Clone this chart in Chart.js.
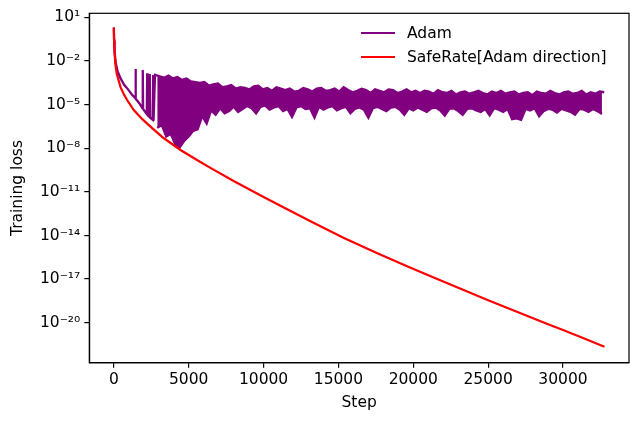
<!DOCTYPE html>
<html>
<head>
<meta charset="utf-8">
<script src="https://cdn.jsdelivr.net/npm/chart.js@4.4.1/dist/chart.umd.min.js"></script>
<style>
  html, body { margin: 0; padding: 0; background: #fff; }
  #wrap { width: 640px; height: 423px; }
</style>
</head>
<body>
<div id="wrap"><canvas id="chart" width="640" height="423"></canvas></div>
<script>
// values, loss kept as log10(loss)
var safeSteps = [0, 15, 40, 80, 113, 200, 447, 700, 900, 1333, 1900, 2560, 3300, 4450, 5780,
  6450, 8000, 10000, 10900, 13100, 15330, 17560, 19780, 21560, 23000, 25000, 27000,
  29000, 30000, 31500, 32767];
var safeLog = [0.3, -0.5, -1.3, -1.9, -2.3, -2.9, -3.8, -4.35, -4.7, -5.37, -6.0, -6.62, -7.28, -8.12, -8.95,
  -9.35, -10.25, -11.35, -11.84, -13.0, -14.15, -15.2, -16.2, -16.97, -17.6, -18.45, -19.28,
  -20.1, -20.5, -21.12, -21.65];

// Adam before it gets noisy (smooth part + the first lone spikes)
var adamEarlySteps = [0, 20, 50, 113, 250, 450, 700, 950, 1200, 1420, 1447, 1475, 1700, 1910, 1933,
  1956, 2120, 2200, 2227, 2254, 2375, 2400, 2425, 2600, 2627, 2654];
var adamEarlyLog = [0.3, -0.6, -1.3, -2.05, -2.7, -3.2, -3.65, -3.95, -4.3, -4.55, -2.55, -4.6, -4.9, -5.25, -2.62,
  -5.3, -5.55, -5.65, -2.85, -5.7, -5.85, -2.9, -5.9, -6.05, -2.96, -6.1];

// noisy band: top edge and bottom edge, points every 300 steps (bottom offset by 150)
var bandStart = 2750;
var bandSpacing = 150;
var adamBandHigh = [
  -2.95, -3.05, -3.15, -3.0, -3.2, -3.1, -3.3, -3.2, -3.4, -3.45,
  -3.5, -3.45, -3.7, -3.6, -3.55, -3.8, -3.75, -3.65, -3.9, -3.8,
  -3.85, -3.95, -3.75, -3.7, -3.95, -3.85, -4.05, -3.8, -3.9, -4.0,
  -3.9, -4.1, -4.05, -3.85, -3.95, -4.1, -3.9, -3.85, -4.05, -4.0,
  -3.9, -4.1, -3.8, -4.0, -4.15, -4.05, -3.9, -4.0, -4.2, -3.95,
  -4.05, -4.15, -3.95, -4.0, -4.2, -4.1, -3.95, -4.15, -4.05, -4.2,
  -4.05, -4.1, -4.25, -4.0, -4.15, -4.2, -4.05, -4.3, -4.15, -4.1,
  -4.25, -4.15, -4.05, -4.2, -4.3, -4.1, -4.2, -4.05, -4.25, -4.15,
  -4.1, -4.3, -4.2, -4.15, -4.35, -4.1, -4.2, -4.25, -4.05, -4.2,
  -4.3, -4.15, -4.1, -4.25, -4.2, -4.05, -4.3, -4.15, -4.25, -4.1,
  -4.15];
var adamBandLow = [
  -6.6, -6.4, -7.2, -7.0, -7.75, -7.95, -7.5, -7.2, -6.8, -6.7,
  -5.8, -6.3, -5.4, -5.7, -5.25, -5.6, -5.45, -5.15, -5.5, -5.3,
  -5.1, -5.25, -5.6, -5.15, -5.05, -5.35, -5.2, -5.1, -5.45, -5.3,
  -5.85, -5.2, -5.1, -5.3, -5.25, -5.9, -5.15, -5.35, -5.2, -5.1,
  -5.4, -5.25, -5.15, -5.6, -5.3, -5.2, -5.35, -5.9, -5.25, -5.15,
  -5.3, -5.45, -5.2, -5.15, -5.35, -5.7, -5.25, -5.4, -5.2, -5.35,
  -5.5, -5.25, -5.2, -5.4, -5.75, -5.3, -5.25, -5.45, -5.7, -5.3,
  -5.25, -5.4, -5.5, -5.3, -5.75, -5.25, -5.35, -5.5, -5.3, -6.0,
  -5.95, -6.05, -5.3, -5.4, -5.25, -5.8, -5.45, -5.3, -5.35, -5.55,
  -5.3, -5.4, -5.5, -5.7, -5.3, -5.35, -5.5, -5.3, -5.45, -5.65];

var seriesNames = ["Adam", "SafeRate[Adam direction]"];
var seriesColors = ["purple", "red"];

var xTicks = [0, 5000, 10000, 15000, 20000, 25000, 30000];
var yTickExps = [1, -2, -5, -8, -11, -14, -17, -20];
var xMin = -1638, xMax = 34406;
var yMinExp = -22.75, yMaxExp = 1.28;

var FONT = "DejaVu Sans";
var FS = 15.5;

function toPoints(steps, logs) {
  return steps.map(function(s, i) { return { x: s, y: Math.pow(10, logs[i]) }; });
}

// top line: early part then the top edge of the band
var adamTop = toPoints(adamEarlySteps, adamEarlyLog);
adamBandHigh.forEach(function(v, i) {
  adamTop.push({ x: bandStart + 2 * i * bandSpacing, y: Math.pow(10, v) });
});
// bottom edge of the band, filled up to the top line
var adamBottom = adamBandLow.map(function(v, i) {
  return { x: bandStart + (2 * i + 1) * bandSpacing, y: Math.pow(10, v) };
});
var safePoints = toPoints(safeSteps, safeLog);

var sup = { "-": "\u207B", "0": "\u2070", "1": "\u00B9", "2": "\u00B2", "3": "\u00B3",
  "4": "\u2074", "5": "\u2075", "6": "\u2076", "7": "\u2077", "8": "\u2078", "9": "\u2079" };
function powLabel(v) {
  var e = String(Math.round(Math.log10(v)));
  return "10" + e.split("").map(function(c) { return sup[c]; }).join("");
}

// box round the plot, like matplotlib spines
var framePlugin = {
  id: "frame",
  afterDraw: function(chart) {
    var a = chart.chartArea, ctx = chart.ctx;
    ctx.save();
    ctx.strokeStyle = "#000";
    ctx.lineWidth = 1.2;
    ctx.strokeRect(a.left, a.top, a.right - a.left, a.bottom - a.top);
    ctx.restore();
  }
};

// legend in the upper right, no frame
var legendPlugin = {
  id: "mplLegend",
  afterDraw: function(chart) {
    var ctx = chart.ctx;
    ctx.save();
    ctx.font = FS + "px '" + FONT + "'";
    ctx.textBaseline = "middle";
    ctx.fillStyle = "#000";
    var k = 0;
    chart.data.datasets.forEach(function(ds) {
      if (!ds.label) return;
      var y = 33 + k * 24;
      ctx.strokeStyle = ds.borderColor;
      ctx.lineWidth = 2.2;
      ctx.beginPath();
      ctx.moveTo(361, y);
      ctx.lineTo(395, y);
      ctx.stroke();
      ctx.fillText(ds.label, 407, y + 1);
      k++;
    });
    ctx.restore();
  }
};

var ctx = document.getElementById("chart");
var chart = new Chart(ctx, {
  type: "line",
  data: {
    datasets: [
      {
        label: seriesNames[0],
        data: adamTop,
        borderColor: seriesColors[0],
        borderWidth: 2.3,
        pointRadius: 0,
        tension: 0,
        fill: false,
        order: 1
      },
      {
        label: "",
        data: adamBottom,
        borderColor: seriesColors[0],
        backgroundColor: seriesColors[0],
        borderWidth: 2.3,
        pointRadius: 0,
        tension: 0,
        fill: "-1",
        order: 1
      },
      {
        label: seriesNames[1],
        data: safePoints,
        borderColor: seriesColors[1],
        borderWidth: 2.2,
        pointRadius: 0,
        tension: 0,
        fill: false,
        order: 0
      }
    ]
  },
  options: {
    responsive: false,
    animation: false,
    layout: { padding: { left: 0, right: 11, top: 13, bottom: 0 } },
    plugins: {
      legend: { display: false },
      tooltip: { enabled: false }
    },
    scales: {
      x: {
        type: "linear",
        min: xMin,
        max: xMax,
        afterBuildTicks: function(scale) {
          scale.ticks = xTicks.map(function(v) { return { value: v }; });
        },
        afterFit: function(scale) { scale.height = 60.3; },
        ticks: {
          color: "#000",
          font: { family: FONT, size: FS },
          padding: 3,
          maxRotation: 0,
          callback: function(v) { return String(v); }
        },
        grid: { drawOnChartArea: false, drawTicks: true, tickLength: 5, color: "#000", lineWidth: 1.2 },
        border: { display: true, color: "#000", width: 1.2 },
        title: {
          display: true,
          text: "Step",
          color: "#000",
          font: { family: FONT, size: FS },
          padding: { top: 4, bottom: 11 }
        }
      },
      y: {
        type: "logarithmic",
        min: Math.pow(10, yMinExp),
        max: Math.pow(10, yMaxExp),
        afterBuildTicks: function(scale) {
          scale.ticks = yTickExps.map(function(e) { return { value: Math.pow(10, e) }; });
        },
        afterFit: function(scale) { scale.width = 89.3; },
        ticks: {
          color: "#000",
          font: { family: FONT, size: FS },
          padding: 4,
          callback: function(v) { return powLabel(v); }
        },
        grid: { drawOnChartArea: false, drawTicks: true, tickLength: 5, color: "#000", lineWidth: 1.2 },
        border: { display: true, color: "#000", width: 1.2 },
        title: {
          display: true,
          text: "Training loss",
          color: "#000",
          font: { family: FONT, size: FS },
          padding: { top: 9, bottom: 4 }
        }
      }
    }
  },
  plugins: [framePlugin, legendPlugin]
});
</script>
</body>
</html>
